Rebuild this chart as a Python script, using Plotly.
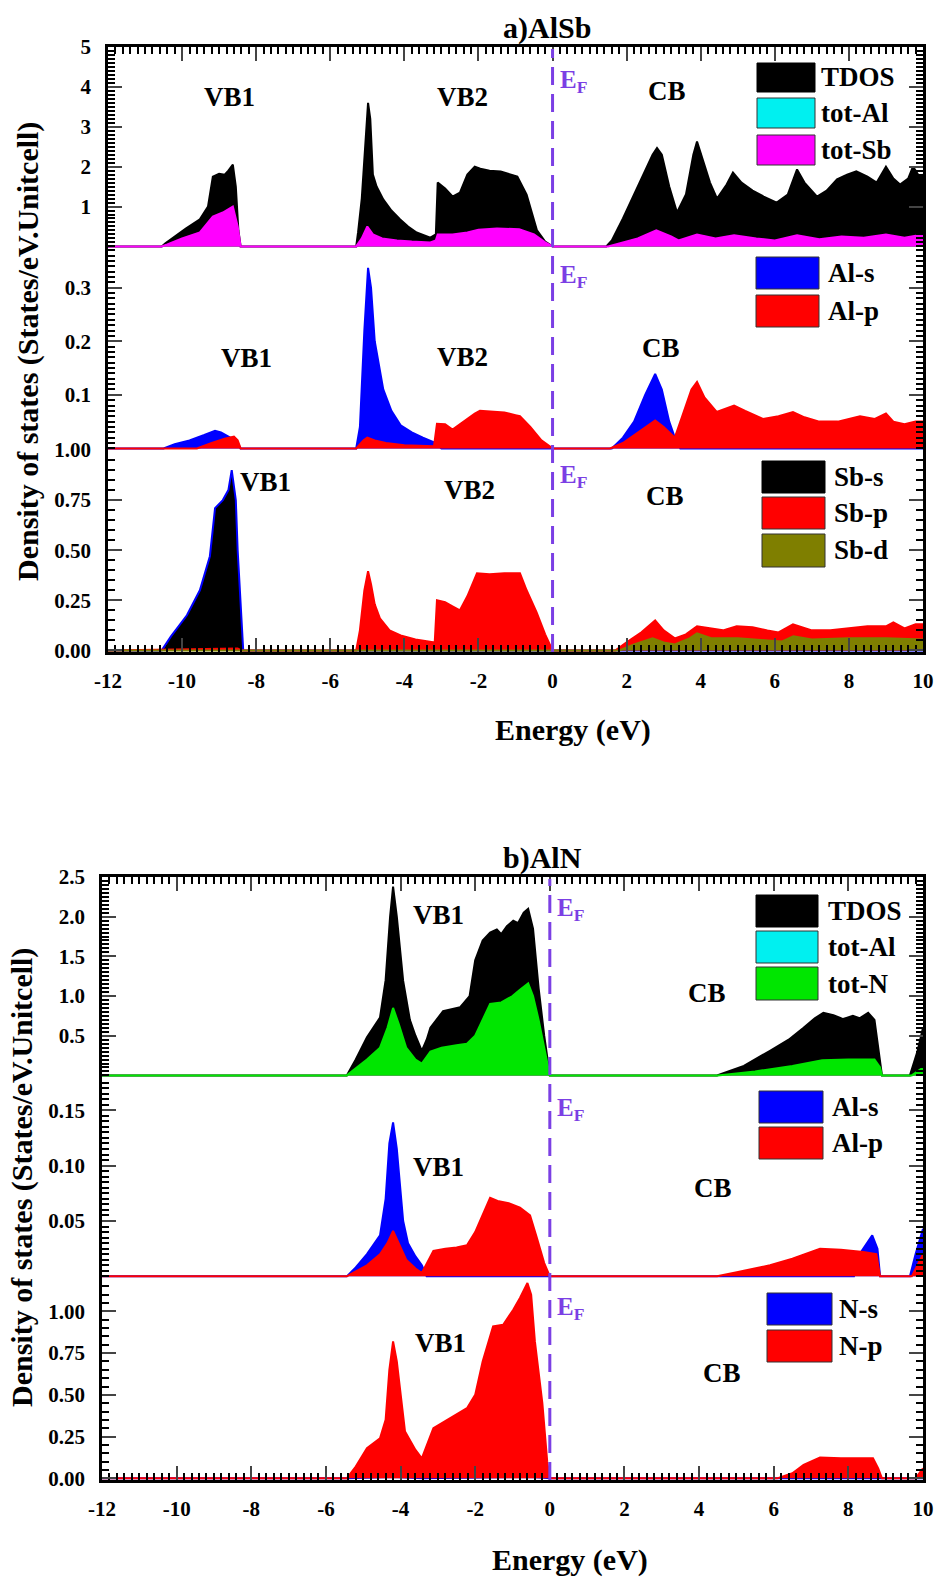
import plotly.graph_objects as go

FONT = "Liberation Serif"
W, H = 940, 1578
EF_COLOR = "#7b3fe4"

# ---------------- data: a) AlSb ----------------
alsb_tdos_E = [-12, -10.55, -10.45, -10.2, -9.9, -9.52, -9.3, -9.17, -9.0, -8.85, -8.75, -8.63, -8.55, -8.48, -8.42,
               -5.3, -5.25, -5.15, -5.05, -4.98, -4.92, -4.85, -4.75, -4.57, -4.35, -4.12, -3.9, -3.67, -3.3, -3.15, -3.1,
               -2.9, -2.7, -2.5, -2.3, -2.1, -1.95, -1.7, -1.4, -1.1, -0.95, -0.7, -0.42, -0.2, 0.0,
               1.45, 1.6, 1.9, 2.2, 2.5, 2.7, 2.82, 2.95, 3.15, 3.36, 3.6, 3.8, 3.9, 4.05, 4.25, 4.44, 4.7, 4.87, 5.1,
               5.4, 5.7, 6.05, 6.35, 6.6, 6.8, 7.14, 7.4, 7.68, 7.95, 8.2, 8.5, 8.75, 9.0, 9.2, 9.38, 9.6, 9.73, 9.9, 10]
alsb_tdos = [0, 0, 0.08, 0.25, 0.45, 0.68, 1.0, 1.75, 1.82, 1.8, 1.9, 2.05, 1.5, 0.4, 0,
             0, 0.35, 1.2, 2.8, 3.6, 3.2, 1.8, 1.5, 1.18, 0.9, 0.68, 0.5, 0.35, 0.22, 0.3, 1.6,
             1.45, 1.25, 1.35, 1.8, 2.0, 1.95, 1.9, 1.88, 1.8, 1.75, 1.3, 0.4, 0.12, 0,
             0, 0.15, 0.7, 1.3, 1.9, 2.3, 2.47, 2.3, 1.5, 0.85, 1.3, 2.3, 2.63, 2.2, 1.6, 1.2, 1.55, 1.85, 1.6,
             1.4, 1.25, 1.1, 1.3, 1.93, 1.6, 1.25, 1.4, 1.68, 1.8, 1.88, 1.75, 1.6, 2.0, 1.7, 1.55, 1.7, 2.0, 1.75, 1.8]

alsb_totsb_E = [-12, -10.55, -10.4, -10.0, -9.52, -9.17, -8.9, -8.63, -8.5, -8.42,
                -5.3, -5.15, -5.0, -4.85, -4.6, -4.2, -3.8, -3.3, -3.15, -3.1, -2.7, -2.3, -2.0, -1.5, -0.9, -0.5, -0.2, 0,
                1.5, 1.8, 2.3, 2.8, 3.2, 3.4, 3.9, 4.4, 4.9, 5.5, 6.0, 6.6, 7.2, 7.8, 8.4, 9.0, 9.5, 10]
alsb_totsb = [0, 0, 0.05, 0.2, 0.35, 0.75, 0.85, 1.0, 0.5, 0,
              0, 0.2, 0.5, 0.3, 0.2, 0.15, 0.12, 0.1, 0.15, 0.3, 0.3, 0.35, 0.42, 0.45, 0.43, 0.3, 0.1, 0,
              0, 0.08, 0.2, 0.4, 0.25, 0.15, 0.3, 0.2, 0.28, 0.2, 0.15, 0.28, 0.18, 0.25, 0.22, 0.3, 0.22, 0.3]

alsb_als_E = [-12, -10.5, -10.2, -9.8, -9.4, -9.11, -8.95, -8.7, -8.5, -8.42,
              -5.3, -5.2, -5.08, -4.98, -4.9, -4.8, -4.57, -4.35, -4.1, -3.8, -3.5, -3.3, -3.15, -3.0, 0,
              1.6, 1.9, 2.2, 2.5, 2.77, 2.95, 3.15, 3.3, 3.45, 10]
alsb_als = [0, 0, 0.008, 0.015, 0.025, 0.033, 0.03, 0.02, 0.01, 0,
            0, 0.04, 0.22, 0.337, 0.3, 0.2, 0.11, 0.07, 0.043, 0.03, 0.02, 0.015, 0.01, 0, 0,
            0, 0.02, 0.05, 0.1, 0.139, 0.11, 0.05, 0.02, 0, 0]

alsb_alp_E = [-12, -9.6, -9.2, -8.85, -8.6, -8.5, -8.42,
              -5.3, -5.1, -5.0, -4.8, -4.5, -4.0, -3.5, -3.2, -3.12, -2.9, -2.7, -2.4, -2.1, -1.96, -1.6, -1.3, -1.0,
              -0.88, -0.6, -0.3, 0,
              1.55, 1.9, 2.3, 2.77, 3.0, 3.3, 3.5, 3.75, 3.9, 4.1, 4.43, 4.7, 4.9, 5.2, 5.68, 6.1, 6.49, 6.8, 7.2,
              7.7, 8.3, 8.7, 9.0, 9.2, 9.5, 9.8, 10]
alsb_alp = [0, 0, 0.01, 0.018, 0.022, 0.015, 0,
            0, 0.015, 0.02, 0.015, 0.01, 0.006, 0.004, 0.004, 0.046, 0.045, 0.035, 0.05, 0.065, 0.07, 0.068, 0.067, 0.062,
            0.06, 0.04, 0.015, 0,
            0, 0.01, 0.03, 0.052, 0.04, 0.02, 0.06, 0.11, 0.124, 0.095, 0.068, 0.075, 0.08, 0.07, 0.055, 0.06, 0.068, 0.058, 0.05,
            0.05, 0.06, 0.055, 0.065, 0.05, 0.045, 0.05, 0.05]

alsb_sbs_E = [-12, -10.55, -10.3, -9.87, -9.52, -9.25, -9.11, -8.9, -8.75, -8.66, -8.55, -8.5, -8.35, 10]
alsb_sbs = [0, 0, 0.07, 0.175, 0.3, 0.47, 0.71, 0.75, 0.8, 0.9, 0.75, 0.5, 0, 0]

alsb_sbp_E = [-12, -8.5, -8.4,
              -5.3, -5.2, -5.08, -4.98, -4.9, -4.8, -4.66, -4.4, -4.1, -3.7, -3.3, -3.18, -3.12, -2.9, -2.7, -2.5, -2.3,
              -2.04, -1.7, -1.3, -0.88, -0.7, -0.43, -0.2, 0,
              1.7, 2.0, 2.4, 2.77, 3.0, 3.3, 3.6, 3.9, 4.2, 4.6, 4.97, 5.4, 5.8, 6.1, 6.49, 7.0, 7.5, 8.0, 8.5, 9.0,
              9.2, 9.5, 9.8, 10]
alsb_sbp = [0, 0.01, 0,
            0, 0.1, 0.3, 0.395, 0.33, 0.23, 0.16, 0.1, 0.075, 0.055, 0.045, 0.04, 0.25, 0.24, 0.22, 0.2, 0.27,
            0.385, 0.38, 0.385, 0.385, 0.3, 0.19, 0.08, 0,
            0, 0.04, 0.09, 0.15, 0.1, 0.06, 0.08, 0.12, 0.11, 0.1, 0.12, 0.115, 0.1, 0.09, 0.13, 0.1, 0.1, 0.11, 0.12, 0.12,
            0.14, 0.11, 0.13, 0.13]

alsb_sbd_E = [-12, 1.8, 2.2, 2.7, 3.0, 3.3, 3.7, 3.9, 4.3, 5.0, 5.8, 6.2, 6.5, 7.0, 8.0, 9.0, 10]
alsb_sbd = [0, 0, 0.03, 0.06, 0.04, 0.03, 0.06, 0.085, 0.06, 0.06, 0.05, 0.045, 0.07, 0.055, 0.06, 0.06, 0.055]

# ---------------- data: b) AlN ----------------
aln_tdos_E = [-12, -5.44, -5.2, -4.9, -4.55, -4.4, -4.28, -4.2, -4.1, -3.93, -3.75, -3.6, -3.43, -3.3, -3.2, -2.86,
              -2.4, -2.15, -2.0, -1.8, -1.6, -1.42, -1.3, -1.15, -0.98, -0.85, -0.7, -0.58, -0.45, -0.3, -0.15, 0,
              4.48, 5.2, 5.9, 6.4, 6.8, 7.1, 7.33, 7.6, 7.86, 8.12, 8.3, 8.53, 8.7, 8.9, 9.65, 9.85, 10]
aln_tdos = [0, 0, 0.2, 0.48, 0.73, 1.2, 2.0, 2.38, 2.0, 1.19, 0.7, 0.5, 0.31, 0.45, 0.6, 0.81,
            0.86, 1.0, 1.45, 1.7, 1.8, 1.84, 1.78, 1.88, 1.95, 1.92, 2.05, 2.1, 1.85, 1.1, 0.5, 0,
            0, 0.12, 0.31, 0.45, 0.6, 0.72, 0.79, 0.76, 0.71, 0.75, 0.72, 0.79, 0.7, 0, 0, 0.3, 0.6]

aln_totn_E = [-12, -5.44, -4.9, -4.55, -4.35, -4.2, -4.05, -3.85, -3.6, -3.43, -3.2, -2.9, -2.5, -2.22, -2.0, -1.8,
              -1.6, -1.3, -1.0, -0.8, -0.58, -0.45, -0.3, -0.15, 0,
              4.5, 5.5, 6.5, 7.3, 8.0, 8.7, 8.85, 8.9, 9.7, 10]
aln_totn = [0, 0, 0.2, 0.35, 0.6, 0.85, 0.65, 0.35, 0.2, 0.15, 0.3, 0.35, 0.38, 0.4, 0.5, 0.7,
            0.9, 0.92, 1.0, 1.08, 1.16, 1.0, 0.7, 0.35, 0,
            0, 0.05, 0.12, 0.19, 0.2, 0.2, 0.1, 0, 0, 0.1]

aln_als_E = [-12, -5.44, -5.2, -4.9, -4.55, -4.4, -4.3, -4.2, -4.1, -3.93, -3.8, -3.6, -3.43, -3.3, 0,
             8.15, 8.3, 8.5, 8.64, 8.78, 8.85, 9.65, 9.8, 10]
aln_als = [0, 0, 0.008, 0.02, 0.037, 0.07, 0.12, 0.139, 0.115, 0.05, 0.03, 0.018, 0.01, 0, 0,
           0, 0.02, 0.03, 0.037, 0.025, 0, 0, 0.02, 0.043]

aln_alp_E = [-12, -5.44, -4.9, -4.55, -4.35, -4.2, -4.05, -3.85, -3.6, -3.43, -3.12, -2.8, -2.5, -2.22, -2.0, -1.8,
             -1.6, -1.4, -1.1, -0.8, -0.53, -0.35, -0.15, 0,
             4.48, 5.2, 5.9, 6.5, 7.0, 7.24, 7.8, 8.4, 8.75, 8.85, 9.7, 9.85, 10]
aln_alp = [0, 0, 0.01, 0.02, 0.03, 0.041, 0.03, 0.015, 0.007, 0.003, 0.023, 0.025, 0.026, 0.028, 0.04, 0.055,
           0.071, 0.068, 0.066, 0.062, 0.055, 0.035, 0.012, 0,
           0, 0.005, 0.01, 0.016, 0.022, 0.025, 0.024, 0.022, 0.02, 0, 0, 0.01, 0.02]

aln_ns_E = [-12, -5.4, -4.2, -3.4, -0.5, 0, 10]
aln_ns = [0, 0, 0.01, 0, 0.01, 0, 0]

aln_np_E = [-12, -5.44, -5.2, -4.9, -4.55, -4.4, -4.3, -4.2, -4.1, -3.88, -3.6, -3.43, -3.12, -2.68, -2.22, -2.0,
            -1.8, -1.52, -1.25, -0.98, -0.8, -0.6, -0.5, -0.4, -0.2, -0.07, 0,
            6.09, 6.5, 6.8, 7.24, 7.8, 8.3, 8.66, 8.8, 8.9, 9.8, 10]
aln_np = [0, 0, 0.07, 0.18, 0.24, 0.35, 0.65, 0.82, 0.7, 0.28, 0.17, 0.12, 0.3, 0.36, 0.42, 0.5,
          0.7, 0.91, 0.92, 1.01, 1.08, 1.17, 1.1, 0.82, 0.45, 0.1, 0,
          0, 0.03, 0.08, 0.125, 0.12, 0.12, 0.12, 0.06, 0, 0, 0.06]

x_tickvals = [-12, -10, -8, -6, -4, -2, 0, 2, 4, 6, 8, 10]
x_ticktext = ["-12", "-10", "-8", "-6", "-4", "-2", "0", "2", "4", "6", "8", "10"]

# ---------------- layout helpers ----------------
def py(y):
    return 1 - y / H

def pxf(x):
    return x / W

BLACK, CYAN, MAGENTA, BLUE, RED, OLIVE, GREEN = "#000000", "#00f0f0", "#ff00ff", "#0000ff", "#ff0000", "#7f7f00", "#00e600"

panels = [
    dict(x=(108, 923), y=(47, 248), rng=(-0.04, 5.0), tv=[1, 2, 3, 4, 5], tt=["1", "2", "3", "4", "5"], minor=0.1, pos="top",
         series=[(alsb_tdos_E, alsb_tdos, BLACK, BLACK), (alsb_totsb_E, alsb_totsb, MAGENTA, MAGENTA)],
         legend=[(757, 815, 63, 92, BLACK, "TDOS"), (757, 815, 98, 128, CYAN, "tot-Al"), (757, 815, 135, 165, MAGENTA, "tot-Sb")], ltx=819,
         labels=[(-8.71, 0.75, "VB1"), (-2.42, 0.75, "VB2"), (3.09, 0.78, "CB")], ef=0.83),
    dict(x=(108, 923), y=(248, 450), rng=(-0.003, 0.374), tv=[0.1, 0.2, 0.3], tt=["0.1", "0.2", "0.3"], minor=0.01, pos="mid",
         series=[(alsb_als_E, alsb_als, BLUE, BLUE), (alsb_alp_E, alsb_alp, RED, RED)],
         legend=[(756, 819, 257, 289, BLUE, "Al-s"), (756, 819, 295, 327, RED, "Al-p")], ltx=826,
         labels=[(-8.25, 0.455, "VB1"), (-2.42, 0.46, "VB2"), (2.93, 0.505, "CB")], ef=0.86),
    dict(x=(108, 923), y=(450, 652), rng=(-0.008, 1.0), tv=[0, 0.25, 0.5, 0.75, 1.0], tt=["0.00", "0.25", "0.50", "0.75", "1.00"], minor=0.05, pos="bottom",
         series=[(alsb_sbs_E, alsb_sbs, BLACK, BLUE), (alsb_sbp_E, alsb_sbp, RED, RED), (alsb_sbd_E, alsb_sbd, OLIVE, OLIVE)],
         legend=[(762, 825, 461, 493, BLACK, "Sb-s"), (762, 825, 497, 529, RED, "Sb-p"), (762, 825, 534, 567, OLIVE, "Sb-d")], ltx=832,
         labels=[(-7.76, 0.84, "VB1"), (-2.23, 0.80, "VB2"), (3.03, 0.77, "CB")], ef=0.87),
    dict(x=(102, 923), y=(877, 1077), rng=(-0.02, 2.5), tv=[0.5, 1.0, 1.5, 2.0, 2.5], tt=["0.5", "1.0", "1.5", "2.0", "2.5"], minor=0.05, pos="top",
         series=[(aln_tdos_E, aln_tdos, BLACK, BLACK), (aln_totn_E, aln_totn, GREEN, GREEN)],
         legend=[(756, 818, 895, 927, BLACK, "TDOS"), (756, 818, 931, 963, CYAN, "tot-Al"), (756, 818, 967, 1000, GREEN, "tot-N")], ltx=826,
         labels=[(-2.97, 0.81, "VB1"), (4.21, 0.42, "CB")], ef=0.84),
    dict(x=(102, 923), y=(1077, 1278), rng=(-0.0015, 0.18), tv=[0.05, 0.10, 0.15], tt=["0.05", "0.10", "0.15"], minor=0.005, pos="mid",
         series=[(aln_als_E, aln_als, BLUE, BLUE), (aln_alp_E, aln_alp, RED, RED)],
         legend=[(759, 823, 1091, 1123, BLUE, "Al-s"), (759, 823, 1127, 1159, RED, "Al-p")], ltx=830,
         labels=[(-2.97, 0.55, "VB1"), (4.37, 0.45, "CB")], ef=0.84),
    dict(x=(102, 923), y=(1278, 1480), rng=(-0.01, 1.2), tv=[0, 0.25, 0.5, 0.75, 1.0], tt=["0.00", "0.25", "0.50", "0.75", "1.00"], minor=0.05, pos="bottom",
         series=[(aln_ns_E, aln_ns, BLUE, BLUE), (aln_np_E, aln_np, RED, RED)],
         legend=[(767, 832, 1293, 1325, BLUE, "N-s"), (767, 832, 1330, 1362, RED, "N-p")], ltx=837,
         labels=[(-2.94, 0.68, "VB1"), (4.61, 0.53, "CB")], ef=0.85),
]

fig = go.Figure()
layout = dict(width=W, height=H, margin=dict(l=0, r=0, t=0, b=0, pad=0, autoexpand=False),
              plot_bgcolor="white", paper_bgcolor="white",
              showlegend=False, font=dict(family=FONT, color="black"))
annotations = []
shapes = []
tickfont = dict(family=FONT, size=21, color="black", weight="bold")

for i, p in enumerate(panels, start=1):
    xs = "" if i == 1 else str(i)
    xa, ya = "x" + xs, "y" + xs
    for (ex, vals, fc, lc) in p["series"]:
        fig.add_trace(go.Scatter(x=ex, y=vals, mode="lines", fill="tozeroy", fillcolor=fc,
                                 line=dict(color=lc, width=2), xaxis=xa, yaxis=ya, hoverinfo="skip"))
    xdom = [pxf(p["x"][0]), pxf(p["x"][1])]
    ydom = [py(p["y"][1]), py(p["y"][0])]
    xax = dict(domain=xdom, range=[-12, 10], anchor=ya, showgrid=False, zeroline=False, automargin=False,
               tickmode="array", tickvals=x_tickvals, ticktext=x_ticktext)
    if p["pos"] == "top":
        xax.update(side="top", showline=True, linewidth=2.5, linecolor="black", ticks="inside", ticklen=14,
                   tickwidth=2, showticklabels=False,
                   minor=dict(tickmode="linear", tick0=-12, dtick=0.2, ticks="inside", ticklen=7, tickwidth=1.5, tickcolor="black"))
    elif p["pos"] == "mid":
        xax.update(showline=False, ticks="", showticklabels=False)
    else:
        xax.update(side="bottom", showline=True, linewidth=2.5, linecolor="black", ticks="inside", ticklen=14,
                   tickwidth=2, showticklabels=True, tickfont=tickfont, ticklabelstandoff=8,
                   minor=dict(tickmode="linear", tick0=-12, dtick=0.2, ticks="inside", ticklen=7, tickwidth=1.5, tickcolor="black"))
    yax = dict(domain=ydom, range=list(p["rng"]), anchor=xa, showgrid=False, zeroline=False, automargin=False,
               tickmode="array", tickvals=p["tv"], ticktext=p["tt"], ticks="inside", ticklen=14, tickwidth=2,
               showline=True, linewidth=2.5, linecolor="black", mirror="ticks", tickfont=tickfont,
               ticklabelstandoff=10,
               minor=dict(tickmode="linear", tick0=0, dtick=p["minor"], ticks="inside", ticklen=7, tickwidth=1.5, tickcolor="black"))
    layout["xaxis" + xs] = xax
    layout["yaxis" + xs] = yax

    # band labels
    for (ex, yd, txt) in p["labels"]:
        annotations.append(dict(x=ex, y=yd, xref=xa, yref=ya + " domain", text=txt, showarrow=False,
                                font=dict(family=FONT, size=27, color="black", weight="bold"),
                                xanchor="center", yanchor="middle"))
    # Fermi level label
    annotations.append(dict(x=0.15, y=p["ef"], xref=xa, yref=ya + " domain", text="E<sub>F</sub>", showarrow=False,
                            font=dict(family=FONT, size=25, color=EF_COLOR, weight="bold"),
                            xanchor="left", yanchor="middle"))
    # legend boxes
    for (x0, x1, y0, y1, col, name) in p["legend"]:
        shapes.append(dict(type="rect", xref="paper", yref="paper", x0=pxf(x0), x1=pxf(x1), y0=py(y1), y1=py(y0),
                           fillcolor=col, line=dict(color="#333333" if col != BLACK else BLACK, width=1), layer="above"))
        annotations.append(dict(x=pxf(p["ltx"]), y=py((y0 + y1) / 2), xref="paper", yref="paper", text=name,
                                showarrow=False, xanchor="left", yanchor="middle",
                                font=dict(family=FONT, size=27, color="black", weight="bold")))

# Fermi level dashed lines
shapes.append(dict(type="line", xref="x3", yref="paper", x0=0, x1=0, y0=py(652), y1=py(49),
                   line=dict(color=EF_COLOR, width=3, dash="18px,9px"), layer="above"))
shapes.append(dict(type="line", xref="x6", yref="paper", x0=0, x1=0, y0=py(1480), y1=py(879),
                   line=dict(color=EF_COLOR, width=3, dash="18px,9px"), layer="above"))

titlefont = dict(family=FONT, size=30, color="black", weight="bold")
annotations += [
    dict(x=pxf(547), y=py(28), xref="paper", yref="paper", text="a)AlSb", showarrow=False, font=titlefont,
         xanchor="center", yanchor="middle"),
    dict(x=pxf(542), y=py(858), xref="paper", yref="paper", text="b)AlN", showarrow=False, font=titlefont,
         xanchor="center", yanchor="middle"),
    dict(x=pxf(573), y=py(730), xref="paper", yref="paper", text="Energy (eV)", showarrow=False, font=titlefont,
         xanchor="center", yanchor="middle"),
    dict(x=pxf(570), y=py(1560), xref="paper", yref="paper", text="Energy (eV)", showarrow=False, font=titlefont,
         xanchor="center", yanchor="middle"),
    dict(x=pxf(28), y=py(352), xref="paper", yref="paper", text="Density of states (States/eV.Unitcell)",
         showarrow=False, font=titlefont, textangle=-90, xanchor="center", yanchor="middle"),
    dict(x=pxf(22), y=py(1178), xref="paper", yref="paper", text="Density of states (States/eV.Unitcell)",
         showarrow=False, font=titlefont, textangle=-90, xanchor="center", yanchor="middle"),
]
layout["annotations"] = annotations
layout["shapes"] = shapes
fig.update_layout(**layout)
fig.write_html("out.html")
